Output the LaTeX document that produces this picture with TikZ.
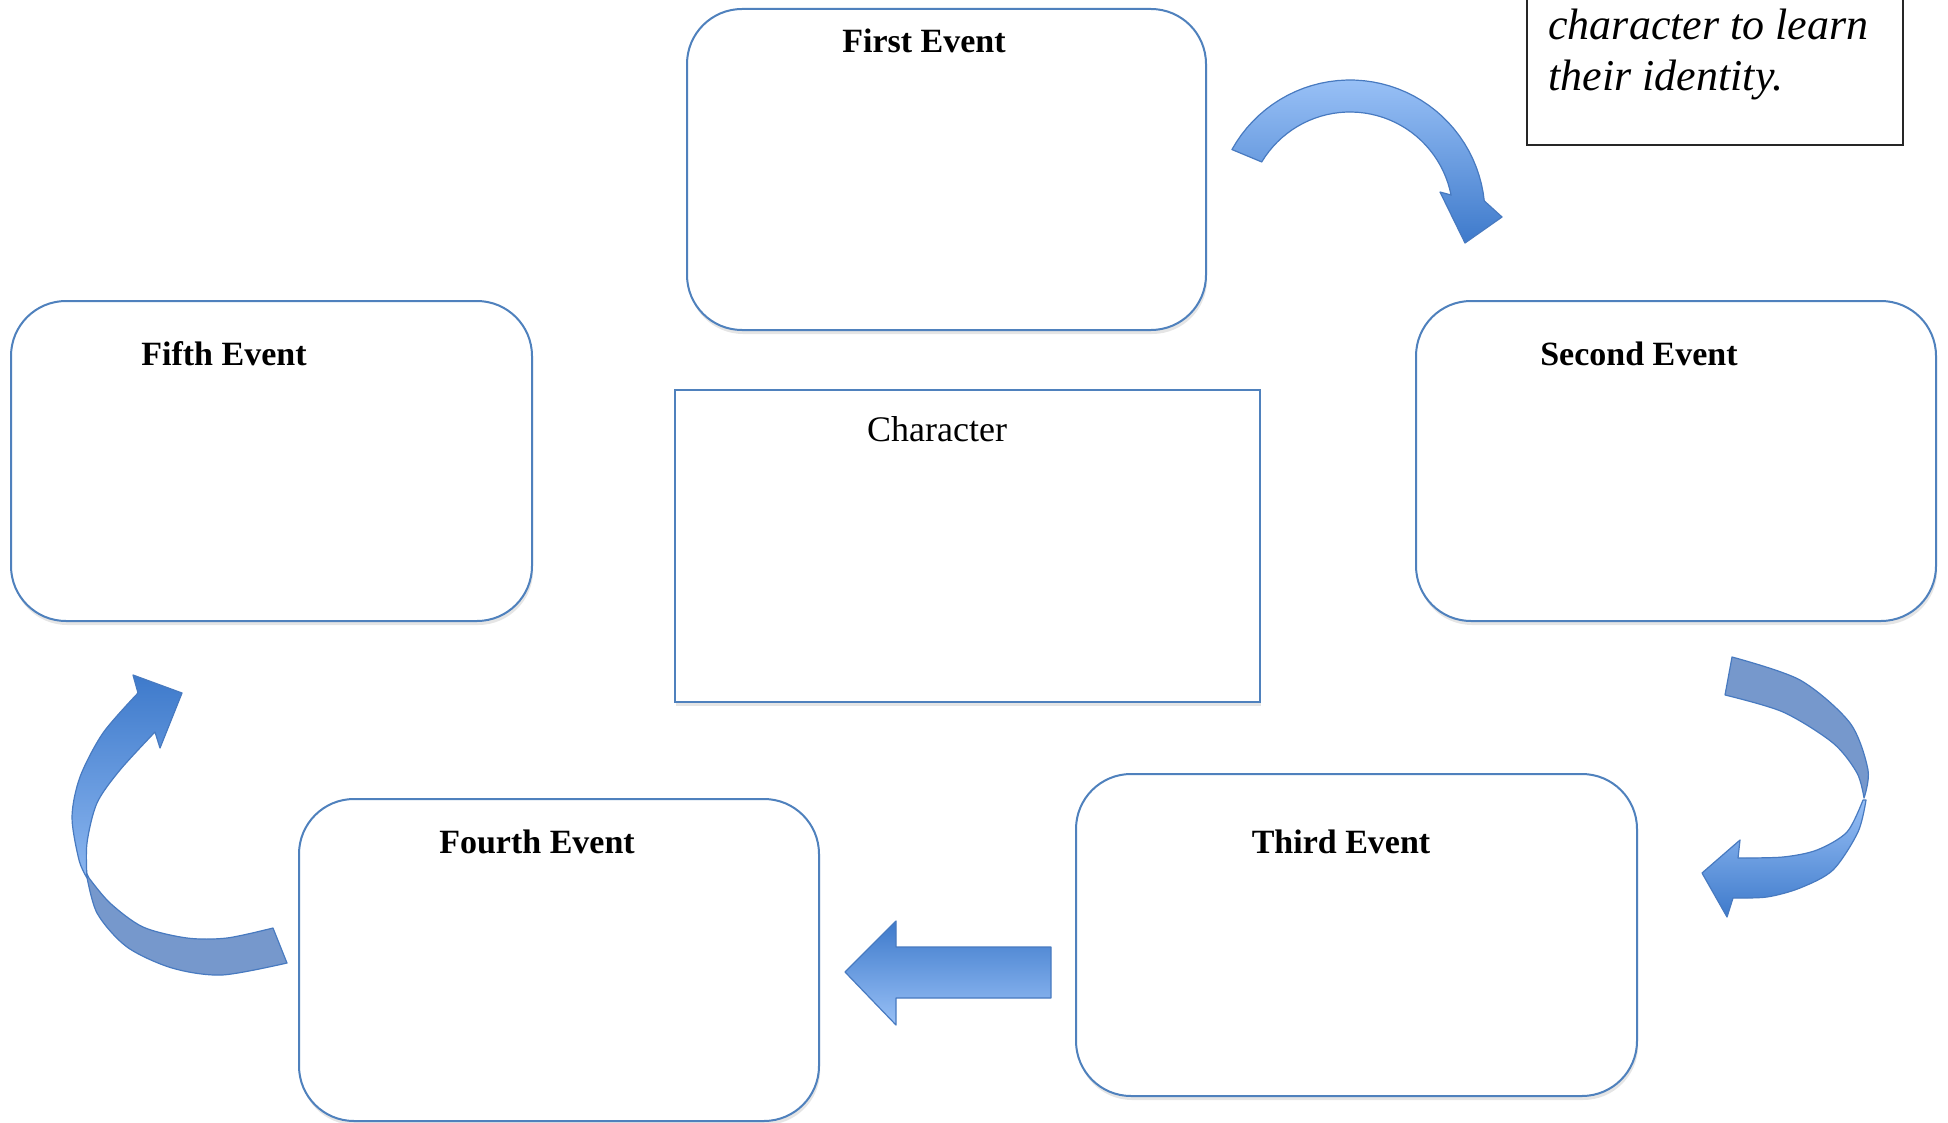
\documentclass[tikz,border=0pt]{standalone}
\usepackage{fontspec}
\setmainfont{Liberation Serif}
\usetikzlibrary{shadows}
\definecolor{boxblue}{RGB}{79,129,189}
\definecolor{arrdark}{RGB}{62,122,203}
\definecolor{arrlight}{RGB}{152,192,246}
\definecolor{arrgrey}{RGB}{118,152,204}
\definecolor{arredge}{RGB}{72,122,192}
\begin{document}
\begin{tikzpicture}[x=0.5pt,y=-0.5pt,
  boxshadow/.style={drop shadow={opacity=0.2, shadow xshift=0.6pt, shadow yshift=-2pt}},
  eventbox/.style={draw=boxblue, line width=1pt, rounded corners=27.5pt, fill=white, boxshadow, inner sep=0pt},
  charbox/.style={draw=boxblue, line width=1pt, fill=white, boxshadow, inner sep=0pt},
  notebox/.style={draw=black!85, line width=0.7pt, fill=white, inner sep=0pt},
  evlabel/.style={font=\fontsize{17}{20}\selectfont\bfseries, inner sep=0pt, anchor=base},
  chlabel/.style={font=\fontsize{18}{21}\selectfont, inner sep=0pt, anchor=base},
  notetext/.style={font=\fontsize{22}{24}\selectfont\itshape, inner sep=0pt, anchor=base west},
  arrowpart/.style={draw=arredge, line width=0.6pt, line join=round},
]
\fill[white] (0,0) rectangle (1948,1123);
\clip (0,0) rectangle (1948,1123);

% boxes
\node[eventbox, minimum width=259.5pt, minimum height=160.5pt] (first) at (946.5,169.5) {};
\node[eventbox, minimum width=260pt, minimum height=160pt] (second) at (1676,461) {};
\node[eventbox, minimum width=280.5pt, minimum height=161pt] (third) at (1356.5,935) {};
\node[eventbox, minimum width=260pt, minimum height=161pt] (fourth) at (559,960) {};
\node[eventbox, minimum width=260.5pt, minimum height=160pt] (fifth) at (271.5,461) {};
\node[charbox, minimum width=292.5pt, minimum height=156pt] (character) at (967.5,546) {};
\node[notebox, minimum width=188pt, minimum height=102.5pt] (note) at (1715,42.5) {};

% labels
\node[evlabel] (firstlbl) at (924,53) {First Event};
\node[evlabel] (secondlbl) at (1639,365) {Second Event};
\node[evlabel] (thirdlbl) at (1341,853) {Third Event};
\node[evlabel] (fourthlbl) at (537,853) {Fourth Event};
\node[evlabel] (fifthlbl) at (224,365) {Fifth Event};
\node[chlabel] (charlbl) at (937,441) {Character};
\node[notetext] (notea) at (1548,40) {character to learn};
\node[notetext] (noteb) at (1548,91) {their identity.};

% top curved arrow (first -> second)
\path[arrowpart, top color=arrlight, bottom color=arrdark]
  plot[domain=209:354, samples=40] ({1350+135*cos(\x)},{215+135*sin(\x)})
  -- (1502,217) -- (1465,243) -- (1440,192) -- (1451,195)
  -- plot[domain=349:211, samples=40] ({1350+103*cos(\x)},{215+103*sin(\x)})
  -- cycle;

% right curved arrow (second -> third)
\path[arrowpart, fill=arrgrey]
  plot[smooth] coordinates {(1732,657) (1800,680) (1850,723) (1868,770) (1864,798)}
  -- plot[smooth] coordinates {(1864,798) (1857,773) (1833,743) (1783,712) (1725,695)}
  -- cycle;
\path[arrowpart, top color=arrlight, bottom color=arrdark]
  plot[smooth] coordinates {(1863,800) (1847,832) (1817,850) (1783,857) (1738,858)}
  -- (1740,840) -- (1702,873) -- (1727,917) -- (1733,898)
  -- plot[smooth] coordinates {(1733,898) (1767,897) (1800,888) (1833,870) (1858,832) (1866,800)}
  -- cycle;

% straight arrow (third -> fourth)
\path[arrowpart, top color=arrdark, bottom color=arrlight]
  (845,972) -- (896,921) -- (896,947) -- (1051,947) -- (1051,998) -- (896,998) -- (896,1025) -- cycle;

% left curved arrow (fourth -> fifth)
\path[arrowpart, fill=arrgrey]
  plot[smooth] coordinates {(86,872) (97,913) (127,947) (172,968) (222,975) (287,963)}
  -- (273,928)
  -- plot[smooth] coordinates {(273,928) (227,938) (187,938) (143,927) (110,903) (89,878)}
  -- cycle;
\path[arrowpart, top color=arrdark, bottom color=arrlight!85!arrdark]
  plot[smooth] coordinates {(138,693) (103,733) (80,777) (72,817) (79,860) (87,878)}
  -- plot[smooth] coordinates {(87,878) (87,843) (97,803) (120,770) (155,732)}
  -- (160,748) -- (182,693) -- (133,675) -- cycle;
\end{tikzpicture}
\end{document}
